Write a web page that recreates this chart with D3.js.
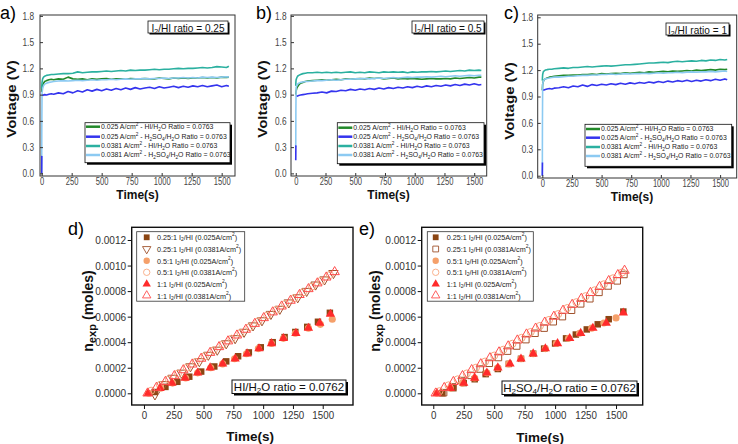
<!DOCTYPE html>
<html><head><meta charset="utf-8">
<script src="https://cdn.jsdelivr.net/npm/d3@7"></script>
<style>body{margin:0;background:#fff}svg{display:block;font-family:"Liberation Sans",Arial,sans-serif}</style>
</head><body><svg id="c" width="738" height="444"></svg>
<script>
// ---------------- DATA ----------------
const timeTicks = [0, 250, 500, 750, 1000, 1250, 1500];
const voltTicks = [0, 0.3, 0.6, 0.9, 1.2, 1.5, 1.8];
const nTicks = [0, 0.0002, 0.0004, 0.0006, 0.0008, 0.0010, 0.0012];

const voltLabels = [
  "0.025 A/cm{^2} - HI/H{_2}O Ratio = 0.0763",
  "0.025 A/cm{^2} - H{_2}SO{_4}/H{_2}O Ratio = 0.0763",
  "0.0381 A/cm{^2} - HI/H{_2}O Ratio = 0.0763",
  "0.0381 A/cm{^2} - H{_2}SO{_4}/H{_2}O Ratio = 0.0763"
];
const ratioLabels = ["I{_2}/HI ratio = 0.25", "I{_2}/HI ratio = 0.5", "I{_2}/HI ratio = 1"];
const panelLetters = ["a)", "b)", "c)", "d)", "e)"];
const nLabels = [
  "0.25:1 I{_2}/HI (0.025A/cm{^2})",
  "0.25:1 I{_2}/HI (0.0381A/cm{^2})",
  "0.5:1 I{_2}/HI (0.025A/cm{^2})",
  "0.5:1 I{_2}/HI (0.0381A/cm{^2})",
  "1:1 I{_2}/HI (0.025A/cm{^2})",
  "1:1 I{_2}/HI (0.0381A/cm{^2})"
];
const nRatioLabels = ["HI/H{_2}O ratio = 0.0762", "H{_2}SO{_4}/H{_2}O ratio = 0.0762"];

const timeS = [0,1,3,8,15,25,40,60,80,100,
  140,180,220,260,300,340,380,420,460,500,
  540,580,620,660,700,740,780,820,860,900,
  940,980,1020,1060,1100,1140,1180,1220,1260,1300,
  1340,1380,1420,1460,1500,1540,1560];

// panel a (I2/HI = 0.25)
const a_HI_025 = [0.93,0.95,0.98,1.01,1.03,1.05,1.06,1.07,1.075,1.07,
  1.08,1.075,1.10,1.08,1.075,1.08,1.07,1.08,1.075,1.08,
  1.085,1.075,1.08,1.08,1.075,1.085,1.08,1.08,1.085,1.08,
  1.08,1.09,1.085,1.08,1.09,1.085,1.09,1.085,1.09,1.09,
  1.095,1.09,1.095,1.09,1.10,1.095,1.10];
const a_H2SO4_025 = [0.0,0.2,null,0.89,0.895,0.90,0.895,0.905,0.91,0.905,
  0.92,0.91,0.935,0.92,0.945,0.93,0.955,0.94,0.96,0.945,
  0.965,0.95,0.97,0.955,0.975,0.96,0.98,0.965,0.975,0.985,
  0.97,0.99,0.975,0.985,0.995,0.98,0.995,0.985,1.0,0.99,
  1.005,0.99,1.0,1.01,0.99,1.005,0.995];
const a_HI_0381 = [0.97,1.0,1.04,1.08,1.10,1.11,1.12,1.125,1.13,1.13,
  1.135,1.14,1.14,1.145,1.16,1.15,1.155,1.16,1.16,1.165,
  1.17,1.165,1.17,1.175,1.17,1.18,1.175,1.18,1.18,1.185,
  1.19,1.185,1.19,1.19,1.195,1.2,1.195,1.2,1.2,1.205,
  1.21,1.205,1.21,1.22,1.215,1.21,1.225];
const a_H2SO4_0381 = [0.0,0.5,0.92,0.97,1.0,1.02,1.03,1.04,1.045,1.05,
  1.055,1.06,1.055,1.06,1.065,1.06,1.065,1.07,1.065,1.07,
  1.07,1.075,1.07,1.075,1.08,1.075,1.08,1.08,1.085,1.08,
  1.085,1.085,1.09,1.085,1.09,1.09,1.095,1.09,1.095,1.09,
  1.1,1.095,1.1,1.095,1.1,1.105,1.1];

// panel b (I2/HI = 0.5)
const b_HI_025 = [0.90,0.92,0.94,0.97,0.99,1.01,1.03,1.04,1.05,1.055,
  1.06,1.065,1.07,1.065,1.07,1.075,1.07,1.08,1.075,1.08,
  1.085,1.08,1.09,1.085,1.09,1.08,1.085,1.09,1.08,1.085,
  1.08,1.085,1.08,1.075,1.08,1.085,1.08,1.08,1.085,1.08,
  1.09,1.085,1.09,1.095,1.09,1.10,1.10];
const b_H2SO4_025 = [0.15,0.32,null,0.88,0.885,0.89,0.895,0.90,0.905,0.91,
  0.915,0.92,0.93,0.92,0.94,0.935,0.95,0.945,0.96,0.95,
  0.965,0.955,0.97,0.96,0.975,0.965,0.98,0.97,0.985,0.975,
  0.99,0.98,0.995,0.985,1.0,0.99,1.005,0.995,1.01,1.0,
  1.015,1.005,1.02,1.01,1.025,1.01,1.015];
const b_HI_0381 = [1.0,1.04,1.07,1.09,1.11,1.12,1.13,1.14,1.145,1.15,
  1.15,1.155,1.15,1.155,1.15,1.155,1.15,1.155,1.16,1.15,
  1.155,1.15,1.16,1.155,1.15,1.16,1.155,1.16,1.155,1.16,
  1.15,1.16,1.155,1.16,1.16,1.165,1.16,1.165,1.17,1.165,
  1.17,1.175,1.17,1.18,1.175,1.18,1.175];
const b_H2SO4_0381 = [0.3,0.7,0.98,1.0,1.02,1.03,1.04,1.045,1.05,1.05,
  1.055,1.06,1.06,1.065,1.07,1.065,1.07,1.075,1.075,1.08,
  1.08,1.085,1.08,1.085,1.09,1.085,1.09,1.095,1.09,1.095,
  1.1,1.095,1.1,1.1,1.105,1.1,1.105,1.11,1.105,1.11,
  1.115,1.11,1.115,1.12,1.115,1.12,1.12];

// panel c (I2/HI = 1)
const c_HI_025 = [0.97,1.0,1.04,1.07,1.09,1.1,1.11,1.12,1.125,1.13,
  1.135,1.14,1.14,1.145,1.145,1.15,1.15,1.155,1.15,1.16,
  1.155,1.16,1.165,1.16,1.17,1.165,1.17,1.175,1.17,1.18,
  1.175,1.18,1.185,1.18,1.19,1.185,1.19,1.195,1.19,1.2,
  1.195,1.2,1.205,1.2,1.21,1.205,1.21];
const c_H2SO4_025 = [0.0,0.15,null,0.97,0.975,0.98,0.985,0.99,0.985,0.995,
  1.0,1.01,1.0,1.02,1.01,1.03,1.015,1.035,1.025,1.04,
  1.03,1.045,1.035,1.05,1.04,1.055,1.045,1.06,1.05,1.065,
  1.055,1.07,1.06,1.075,1.065,1.08,1.07,1.085,1.07,1.085,
  1.075,1.09,1.08,1.095,1.085,1.10,1.09];
const c_HI_0381 = [1.08,1.11,1.15,1.18,1.19,1.2,1.205,1.21,1.21,1.215,
  1.22,1.225,1.22,1.23,1.23,1.235,1.24,1.235,1.24,1.245,
  1.25,1.245,1.25,1.255,1.26,1.26,1.265,1.27,1.275,1.28,
  1.28,1.285,1.29,1.285,1.295,1.3,1.295,1.3,1.305,1.3,
  1.31,1.305,1.315,1.31,1.32,1.315,1.32];
const c_H2SO4_0381 = [0.0,0.6,1.04,1.07,1.09,1.1,1.105,1.11,1.115,1.12,
  1.12,1.125,1.13,1.13,1.135,1.14,1.14,1.145,1.145,1.15,
  1.15,1.155,1.15,1.155,1.16,1.155,1.16,1.16,1.165,1.16,
  1.165,1.17,1.165,1.17,1.17,1.175,1.17,1.175,1.18,1.175,
  1.18,1.18,1.185,1.18,1.185,1.19,1.185];

// panel d (HI/H2O = 0.0762): time (s) and n_exp (moles)
const d_t_025_025 = [90,180,280,380,480,590,690,790,880,980,1080,1180,1270,1370,1460,1560];
const d_n_025_025 = [0.00001,0.00005,0.00009,0.00013,0.00017,0.00021,0.00025,0.00029,0.00032,0.00036,0.0004,0.00044,0.00048,0.00052,0.00056,0.00063];
const d_t_025_0381 = [92,165,240,315,390,465,540,615,690,765,840,915,990,1065,1140,1215,1290,1365,1440,1515,1590];
const d_n_025_0381 = [-0.00001,0.00007,0.00012,0.00016,0.00021,0.00025,0.0003,0.00034,0.00039,0.00043,0.00048,0.00053,0.00057,0.00062,0.00066,0.00071,0.00075,0.0008,0.00085,0.00089,0.00094];
const d_t_05_025 = [40,140,240,350,450,560,660,760,860,960,1070,1170,1270,1380,1480,1580];
const d_n_05_025 = [0,0.00004,0.00008,0.00012,0.00016,0.0002,0.00023,0.00027,0.00031,0.00035,0.00039,0.00043,0.00047,0.00051,0.00054,0.00058];
const d_t_05_0381 = [60,135,210,285,360,435,510,585,660,735,810,885,960,1035,1110,1185,1260,1335,1410,1485,1560];
const d_n_05_0381 = [0.00002,0.000064,0.000109,0.000154,0.0002,0.000245,0.00029,0.000336,0.000381,0.000427,0.000472,0.000517,0.000563,0.000608,0.000653,0.000699,0.000744,0.00079,0.000835,0.00088,0.000926];
const d_t_1_025 = [35,135,235,345,450,555,660,765,865,965,1070,1170,1275,1380,1475,1565];
const d_n_1_025 = [0,0.00004,0.00008,0.00012,0.00016,0.0002,0.00023,0.00027,0.00031,0.00035,0.00039,0.00043,0.00047,0.00051,0.00055,0.00062];
const d_t_1_0381 = [30,105,180,255,330,405,480,555,630,705,780,855,930,1005,1080,1155,1230,1305,1380,1455,1530,1600];
const d_n_1_0381 = [0,0.000045,0.000091,0.000136,0.000182,0.000227,0.000272,0.000318,0.000363,0.000408,0.000454,0.000499,0.000545,0.00059,0.000635,0.000681,0.000726,0.000771,0.000817,0.000862,0.000908,0.00095];

// panel e (H2SO4/H2O = 0.0762)
const e_t_025_025 = [75,165,250,340,430,530,620,720,820,910,1000,1090,1170,1260,1350,1440,1560];
const e_n_025_025 = [0,0.00004,0.00008,0.00011,0.00015,0.00019,0.00023,0.00027,0.00031,0.00035,0.00039,0.00043,0.00046,0.0005,0.00054,0.00058,0.00064];
const e_t_025_0381 = [85,160,235,310,385,460,535,610,685,760,835,910,985,1060,1135,1210,1285,1360,1435,1510,1565];
const e_n_025_0381 = [0.000005,0.00005,0.0001,0.00014,0.00019,0.000235,0.00028,0.00033,0.00037,0.00042,0.00047,0.00051,0.00056,0.0006,0.00065,0.0007,0.00074,0.00079,0.00084,0.00088,0.00093];
const e_t_05_025 = [30,140,240,340,440,530,620,720,820,920,1010,1110,1200,1300,1400,1500];
const e_n_05_025 = [0,0.00004,0.00008,0.00012,0.00016,0.0002,0.00023,0.00027,0.00031,0.00035,0.00039,0.00043,0.00047,0.00051,0.00055,0.00059];
const e_t_05_0381 = [50,125,200,275,350,425,500,575,650,725,800,875,950,1025,1100,1175,1250,1325,1400,1475,1550];
const e_n_05_0381 = [0.000016,0.000062,0.000109,0.000155,0.0002,0.000248,0.000295,0.000341,0.000388,0.000434,0.00048,0.000527,0.000574,0.00062,0.000667,0.000713,0.00076,0.000806,0.000853,0.0009,0.000946];
const e_t_1_025 = [30,140,250,340,440,530,630,720,820,920,1020,1120,1210,1310,1420,1560];
const e_n_1_025 = [0,0.00004,0.00008,0.00012,0.00016,0.0002,0.00023,0.00027,0.00031,0.00035,0.00039,0.00043,0.00047,0.00051,0.00055,0.00063];
const e_t_1_0381 = [20,90,165,240,315,390,465,540,615,690,765,840,915,990,1065,1140,1215,1290,1365,1440,1515,1570];
const e_n_1_0381 = [0,0.000043,0.00009,0.000136,0.000183,0.000229,0.000276,0.000322,0.000369,0.000415,0.000462,0.000508,0.000555,0.000601,0.000648,0.000694,0.000741,0.000787,0.000834,0.00088,0.000927,0.000961];

// ---------------- DRAWING ----------------
const svg = d3.select('#c');
const FONT = '"Liberation Sans", Arial, sans-serif';

function rich(t, str, fs, subScale) {
  subScale = subScale || 0.68;
  let off = 0;
  str.split(/(\{[_^][^}]*\})/).filter(s => s).forEach(p => {
    const m = p.match(/^\{([_^])(.*)\}$/);
    let target = 0, txt = p, size = fs;
    if (m) { target = m[1] === '_' ? 0.28 * fs : -0.38 * fs; txt = m[2]; size = subScale * fs; }
    t.append('tspan').attr('dy', (target - off).toFixed(2)).attr('font-size', size).text(txt);
    off = target;
  });
}

function label(g, x, y, str, o) {
  const t = g.append('text')
    .attr('transform', `translate(${x},${y})${o.rot ? ' rotate(-90)' : ''} scale(${o.sx || 1},1)`)
    .attr('text-anchor', o.anchor || 'middle')
    .attr('dominant-baseline', o.baseline || 'central')
    .attr('font-size', o.size).attr('font-weight', o.weight || 'normal')
    .attr('fill', o.fill || '#000').attr('font-family', FONT);
  rich(t, str, o.size, o.sub);
  return t;
}

function shadowBox(g, x, y, w, h, sh, sw) {
  g.append('rect').attr('x', x + sh).attr('y', y + sh).attr('width', w).attr('height', h).attr('fill', '#000');
  g.append('rect').attr('x', x).attr('y', y).attr('width', w).attr('height', h)
    .attr('fill', '#fff').attr('stroke', '#111').attr('stroke-width', sw || 0.8);
}

function styleAxis(ax, fs, sx, fill, tickColor) {
  ax.attr('font-family', null).attr('font-size', null);
  ax.select('.domain').remove();
  ax.selectAll('line').attr('stroke', tickColor);
  ax.selectAll('text').attr('font-size', fs).attr('fill', fill).attr('font-family', FONT)
    .each(function () {
      const t = d3.select(this);
      const x = +t.attr('x') || 0;
      t.attr('x', x / sx).attr('transform', `scale(${sx},1)`);
    });
}

const vColors = ['#22892a', '#3434ee', '#2bb0a0', '#8ccaf2'];
const vDrawOrder = [0, 2, 3, 1];

const vPanels = [
  { x0: 40, x1: 235, y0: 15, y1: 176, xdom: [-14, 1611], ydom: [-0.03, 1.81], ypad: 6,
    series: [a_HI_025, a_H2SO4_025, a_HI_0381, a_H2SO4_0381],
    rbox: [148, 21, 80, 12], lbox: [85, 122.7, 145, 40], rows: [126.7, 136.7, 146, 155],
    letter: [0, 19], ytitle: [11, 99], xtitle: [137.5, 195] },
  { x0: 291, x1: 486.7, y0: 15, y1: 176, xdom: [-40, 1605], ydom: [-0.03, 1.81], ypad: 4.5,
    series: [b_HI_025, b_H2SO4_025, b_HI_0381, b_H2SO4_0381],
    rbox: [412, 21, 72, 12], lbox: [337.3, 122.7, 146.7, 41], rows: [127.7, 136.7, 146, 155],
    letter: [256, 19], ytitle: [262, 99], xtitle: [388.5, 195] },
  { x0: 537.7, x1: 736.7, y0: 15, y1: 178, xdom: [-39, 1640], ydom: [-0.026, 1.826], ypad: 4.5,
    series: [c_HI_025, c_H2SO4_025, c_HI_0381, c_H2SO4_0381],
    rbox: [666, 23, 63, 12], lbox: [585, 124.3, 146.7, 42], rows: [129, 137.7, 147, 156],
    letter: [504, 19], ytitle: [509, 101], xtitle: [632, 196.5] }
];

vPanels.forEach((o, pi) => {
  const g = svg.append('g');
  const x = d3.scaleLinear().domain(o.xdom).range([o.x0, o.x1]);
  const y = d3.scaleLinear().domain(o.ydom).range([o.y1, o.y0]);
  const cid = 'clipV' + pi;
  g.append('clipPath').attr('id', cid).append('rect')
    .attr('x', o.x0).attr('y', o.y0).attr('width', o.x1 - o.x0).attr('height', o.y1 - o.y0);
  const line = d3.line().defined(d => d[1] != null).x(d => x(d[0])).y(d => y(d[1]));
  const lg = g.append('g').attr('clip-path', `url(#${cid})`);
  vDrawOrder.forEach(si => {
    lg.append('path').datum(d3.zip(timeS, o.series[si])).attr('d', line)
      .attr('fill', 'none').attr('stroke', vColors[si]).attr('stroke-width', 1.6).attr('stroke-linejoin', 'round');
  });
  g.append('rect').attr('x', o.x0).attr('y', o.y0).attr('width', o.x1 - o.x0).attr('height', o.y1 - o.y0)
    .attr('fill', 'none').attr('stroke', '#333').attr('stroke-width', 1);
  const ax = g.append('g').attr('transform', `translate(0,${o.y1})`)
    .call(d3.axisBottom(x).tickValues(timeTicks).tickSizeInner(-3).tickSizeOuter(0).tickPadding(2).tickFormat(d3.format('d')));
  styleAxis(ax, 10, 0.76, '#444', '#333');
  const ay = g.append('g').attr('transform', `translate(${o.x0},0)`)
    .call(d3.axisLeft(y).tickValues(voltTicks).tickSizeInner(-3).tickSizeOuter(0).tickPadding(o.ypad).tickFormat(d3.format('.1f')));
  styleAxis(ay, 10, 0.83, '#444', '#333');

  // ratio box
  const rb = o.rbox;
  shadowBox(g, rb[0], rb[1], rb[2], rb[3], 1.5, 0.8);
  label(g, rb[0] + rb[2] / 2, rb[1] + rb[3] / 2 + 0.5, ratioLabels[pi], { size: 10.5, fill: '#111', sub: 0.7, sx: 0.96 });

  // legend
  const lb = o.lbox;
  shadowBox(g, lb[0], lb[1], lb[2], lb[3], 2, 0.8);
  [0, 1, 2, 3].forEach(si => {
    const ry = o.rows[si];
    g.append('line').attr('x1', lb[0] + 1).attr('x2', lb[0] + 15).attr('y1', ry).attr('y2', ry)
      .attr('stroke', vColors[si]).attr('stroke-width', 2.5);
    label(g, lb[0] + 16, ry, voltLabels[si], { size: 7.3, anchor: 'start', fill: '#222', sx: 0.95 });
  });

  // titles
  label(g, o.ytitle[0], o.ytitle[1], 'Voltage (V)', { size: 13, weight: 'bold', rot: true, sx: 1.16, fill: '#111' });
  label(g, o.xtitle[0], o.xtitle[1], 'Time(s)', { size: 12, weight: 'bold', fill: '#111' });
  label(g, o.letter[0], o.letter[1], panelLetters[pi], { size: 18, anchor: 'start', baseline: 'alphabetic' });
});

// ---------- n_exp panels ----------
const nDomain = [-0.0000916, 0.0012994];
const nColors = ['#8b4513', '#a0522d', '#f5a06a', '#f8a880', '#ff2b2b', '#ff4d4d'];

function sym(type, size) {
  const map = { square: d3.symbolSquare, circle: d3.symbolCircle, tri: d3.symbolTriangle, tridown: d3.symbolTriangle };
  return d3.symbol().type(map[type]).size(size)();
}

const nPanels = [
  { x0: 131.7, x1: 353, y0: 227.3, y1: 405, xdom: [-103, 1754],
    t: [d_t_025_025, d_t_025_0381, d_t_05_025, d_t_05_0381, d_t_1_025, d_t_1_0381],
    n: [d_n_025_025, d_n_025_0381, d_n_05_025, d_n_05_0381, d_n_1_025, d_n_1_0381],
    types: ['square', 'tridown', 'circle', 'circle', 'tri', 'tri'],
    lbox: [136.7, 231.7, 108, 69.5], mx: 146.7, tx: 157,
    rbox: [232, 380, 114, 13.5], ytitle: [88, 311], xtitle: [250, 435.5], letter: [68, 235] },
  { x0: 421.7, x1: 642.7, y0: 227.3, y1: 405, xdom: [-95, 1719],
    t: [e_t_025_025, e_t_025_0381, e_t_05_025, e_t_05_0381, e_t_1_025, e_t_1_0381],
    n: [e_n_025_025, e_n_025_0381, e_n_05_025, e_n_05_0381, e_n_1_025, e_n_1_0381],
    types: ['square', 'square', 'circle', 'circle', 'tri', 'tri'],
    lbox: [427.3, 231.7, 106, 69.5], mx: 435.7, tx: 446.7,
    rbox: [502, 381, 135, 13.5], ytitle: [375, 311], xtitle: [540, 436.5], letter: [359, 235] }
];
const nFilled = [true, false, true, false, true, false];
const nRows = [237.3, 249, 260.7, 272.3, 284, 295.5];
const nSizes = { square: 42, circle: 40, tri: 38, tridown: 38 };

nPanels.forEach((o, pi) => {
  const g = svg.append('g');
  const x = d3.scaleLinear().domain(o.xdom).range([o.x0, o.x1]);
  const y = d3.scaleLinear().domain(nDomain).range([o.y1, o.y0]);
  g.append('rect').attr('x', o.x0).attr('y', o.y0).attr('width', o.x1 - o.x0).attr('height', o.y1 - o.y0)
    .attr('fill', 'none').attr('stroke', '#111').attr('stroke-width', 1.4);
  const ax = g.append('g').attr('transform', `translate(0,${o.y1})`)
    .call(d3.axisBottom(x).tickValues(timeTicks).tickSizeInner(4).tickSizeOuter(0).tickPadding(2).tickFormat(d3.format('d')));
  styleAxis(ax, 11.5, 0.85, '#333', '#111');
  const ay = g.append('g').attr('transform', `translate(${o.x0},0)`)
    .call(d3.axisLeft(y).tickValues(nTicks).tickSizeInner(4).tickSizeOuter(0).tickPadding(1.5).tickFormat(d3.format('.4f')));
  styleAxis(ay, 11.5, 0.88, '#333', '#111');

  // legend
  const lb = o.lbox;
  g.append('rect').attr('x', lb[0]).attr('y', lb[1]).attr('width', lb[2]).attr('height', lb[3])
    .attr('fill', '#fff').attr('stroke', '#333').attr('stroke-width', 0.8);
  nLabels.forEach((lab, si) => {
    const tp = o.types[si];
    g.append('path').attr('d', sym(tp, nSizes[tp] * 0.8))
      .attr('transform', `translate(${o.mx},${nRows[si]})${tp === 'tridown' ? ' rotate(180)' : ''}`)
      .attr('fill', nFilled[si] ? nColors[si] : 'none')
      .attr('stroke', nFilled[si] ? 'none' : nColors[si]).attr('stroke-width', 0.9);
    label(g, o.tx, nRows[si], lab, { size: 7.6, anchor: 'start', fill: '#222', sx: 0.95 });
  });

  // markers
  [0, 1, 2, 3, 4, 5].forEach(si => {
    const tp = o.types[si];
    g.append('g').selectAll('path').data(d3.zip(o.t[si], o.n[si])).join('path')
      .attr('d', sym(tp, nSizes[tp]))
      .attr('transform', d => `translate(${x(d[0])},${y(d[1])})${tp === 'tridown' ? ' rotate(180)' : ''}`)
      .attr('fill', nFilled[si] ? nColors[si] : 'none')
      .attr('stroke', nFilled[si] ? 'none' : nColors[si]).attr('stroke-width', 1);
  });

  // ratio box
  const rb = o.rbox;
  shadowBox(g, rb[0], rb[1], rb[2], rb[3], 2, 1);
  label(g, rb[0] + rb[2] / 2, rb[1] + rb[3] / 2 + 0.5, nRatioLabels[pi], { size: 11.5, fill: '#111', sub: 0.7 });

  label(g, o.ytitle[0], o.ytitle[1], 'n{_exp} (moles)', { size: 14, weight: 'bold', rot: true, sub: 0.8, fill: '#111' });
  label(g, o.xtitle[0], o.xtitle[1], 'Time(s)', { size: 13.5, weight: 'bold', fill: '#111' });
  label(g, o.letter[0], o.letter[1], panelLetters[3 + pi], { size: 18, anchor: 'start', baseline: 'alphabetic' });
});
</script>
</body></html>
